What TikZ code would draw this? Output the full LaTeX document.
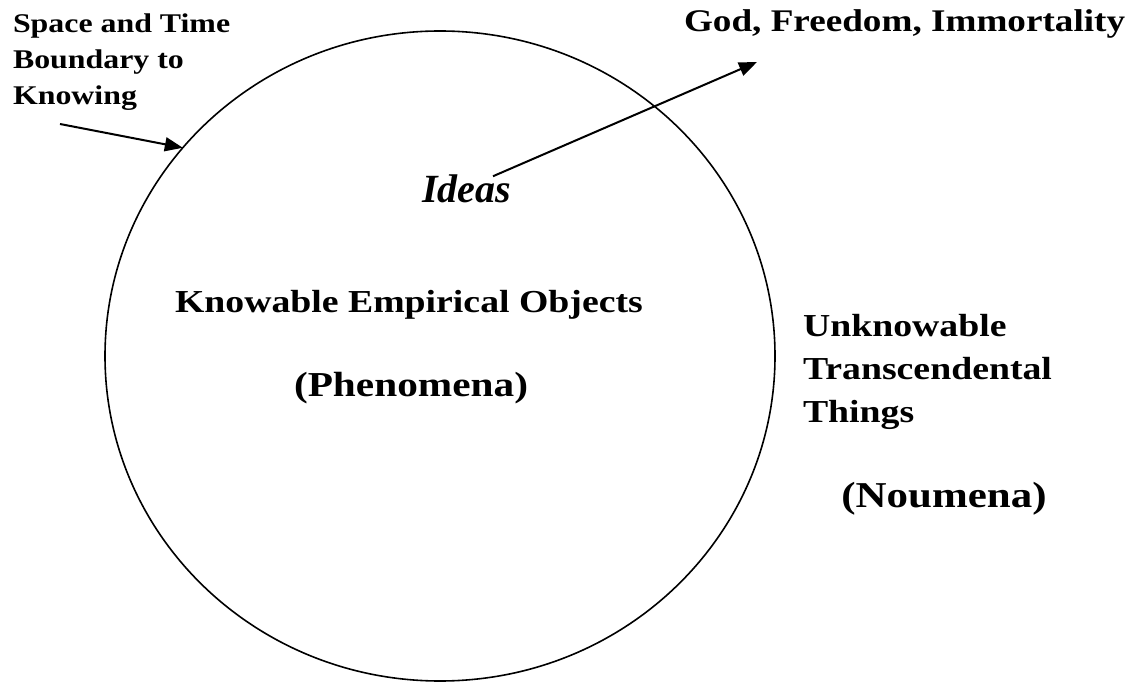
\documentclass[tikz,border=0pt]{standalone}
\usepackage{fontspec}
\setmainfont{Liberation Serif}
\usepackage{graphicx}
\usetikzlibrary{shapes.geometric,arrows.meta}
\tikzset{
  lbl/.style={inner sep=0pt, outer sep=0pt},
  boundary/.style={ellipse, draw, line width=1.6pt, inner sep=0pt, outer sep=0pt,
    minimum width=670pt, minimum height=650pt},
  arr/.style={line width=2pt, -{Triangle[length=18pt,width=14pt]}}
}
\newcommand{\wide}[1]{\scalebox{1.18}[1]{#1}}
\begin{document}
\begin{tikzpicture}[x=1pt,y=1pt]
\useasboundingbox (0,0) rectangle (1137,683);
% boundary ellipse
\node[boundary] (bound) at (440,327) {};
% left label
\node[lbl, anchor=base west] (space) at (13,650)
  {\wide{\fontsize{27}{36}\selectfont\bfseries
   \begin{tabular}[t]{@{}l@{}}Space and Time\\Boundary to\\Knowing\end{tabular}}};
\coordinate (bs) at (60,559);
\draw[arr] (bs) -- (bound.141);
% god
\node[lbl, anchor=base west] (god) at (684,651)
  {\wide{\fontsize{31.5}{36}\selectfont\bfseries God, Freedom, Immortality}};
% ideas
\node[lbl, anchor=base east] (ideas) at (511,480)
  {\fontsize{40}{46}\selectfont\bfseries\itshape Ideas};
\coordinate (gt) at (757,621);
\draw[arr] ([xshift=-18pt,yshift=-1pt]ideas.north east) -- (gt);
% knowable
\node[lbl, anchor=base west] (know) at (175,370)
  {\wide{\fontsize{32}{38}\selectfont\bfseries Knowable Empirical Objects}};
\node[lbl, anchor=base] (phen) at (411,286)
  {\wide{\fontsize{35}{40}\selectfont\bfseries (Phenomena)}};
% unknowable
\node[lbl, anchor=base west] (unk) at (803,346)
  {\wide{\fontsize{32}{43}\selectfont\bfseries
   \begin{tabular}[t]{@{}l@{}}Unknowable\\Transcendental\\Things\end{tabular}}};
\node[lbl, anchor=base] (noum) at (944,176)
  {\wide{\fontsize{36.4}{42}\selectfont\bfseries (Noumena)}};
\end{tikzpicture}
\end{document}
